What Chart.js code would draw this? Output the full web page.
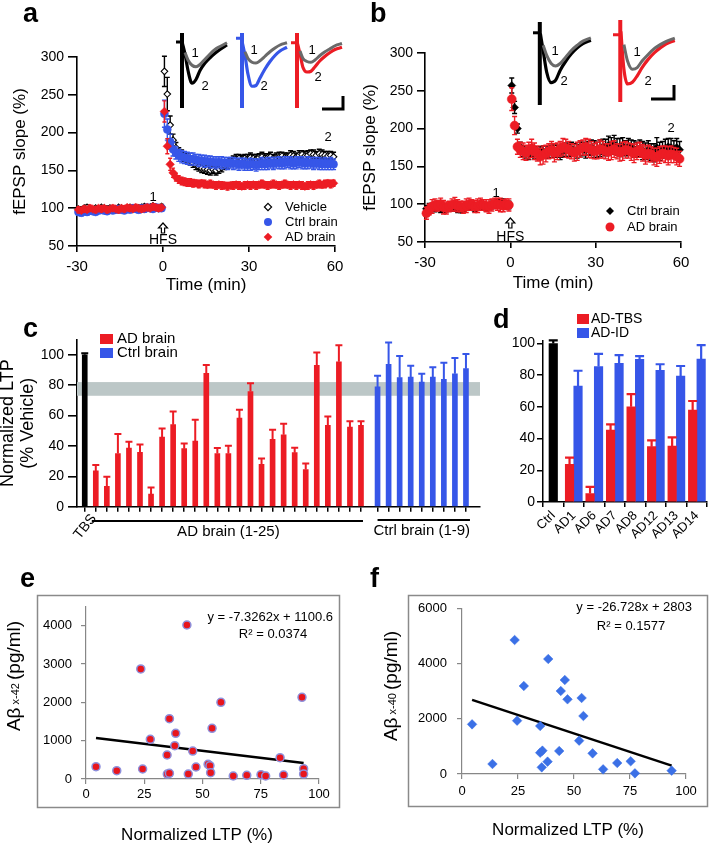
<!DOCTYPE html>
<html><head><meta charset="utf-8">
<script src="https://cdn.jsdelivr.net/npm/chart.js@4.4.1/dist/chart.umd.min.js"></script>
<style>
html,body{margin:0;padding:0;background:#fff;}
#wrap{position:relative;width:709px;height:845px;overflow:hidden;background:#fff;}
#wrap canvas{position:absolute;left:0;top:0;}
</style></head><body><div id="wrap"></div>
<script>
// ================= DATA =================
// Panels a & b: time (min) and fEPSP slope (%) with SEM
const timeMin = [-29.5,-28.5,-27.5,-26.5,-25.5,-24.5,-23.5,-22.5,-21.5,-20.5,-19.5,-18.5,-17.5,-16.5,-15.5,-14.5,-13.5,-12.5,-11.5,-10.5,-9.5,-8.5,-7.5,-6.5,-5.5,-4.5,-3.5,-2.5,-1.5,-0.5,
 0.5,1.5,2.5,3.5,4.5,5.5,6.5,7.5,8.5,9.5,10.5,11.5,12.5,13.5,14.5,15.5,16.5,17.5,18.5,19.5,20.5,21.5,22.5,23.5,24.5,25.5,26.5,27.5,28.5,29.5,
 30.5,31.5,32.5,33.5,34.5,35.5,36.5,37.5,38.5,39.5,40.5,41.5,42.5,43.5,44.5,45.5,46.5,47.5,48.5,49.5,50.5,51.5,52.5,53.5,54.5,55.5,56.5,57.5,58.5,59.5];
const timeTicks = [-30,0,30,60];
const slopeTicksAB = [50,100,150,200,250,300];

const vehicleA = [99,98,100,101,99,98,100,99,101,100,99,100,98,99,101,100,99,100,101,100,99,100,101,102,100,101,103,101,100,102,
 281,251,210,190,180,174,171,168,166,163,160,157,155,153,152,151,150,151,150,152,154,156,158,160,163,165,166,164,166,165,
 167,166,165,167,168,166,167,168,166,167,168,169,167,168,170,169,168,170,171,169,170,172,171,170,172,171,170,169,170,168];
const vehicleAErr = [3,3,2,3,2,3,2,3,2,3,2,3,2,3,2,3,2,3,2,3,2,3,3,3,2,3,3,3,2,3,
 20,22,12,8,7,6,6,6,6,6,6,6,6,6,6,6,6,5,6,6,6,5,6,5,6,6,5,6,5,6,
 6,5,6,5,6,6,5,6,5,6,6,5,6,5,6,6,5,6,5,6,6,5,6,5,6,6,5,6,5,6];
const ctrlA = [95,94,96,95,97,96,95,97,98,97,96,98,97,98,99,98,97,99,98,100,99,98,100,99,101,100,99,101,100,100,
 225,204,188,178,173,170,168,167,166,165,165,164,163,163,162,162,161,161,160,161,160,160,159,160,159,159,158,159,158,157,
 158,158,157,158,159,158,159,160,159,160,160,159,160,161,160,159,160,161,160,159,160,160,159,160,159,158,159,158,159,158];
const ctrlAErr = [4,4,3,4,3,4,3,4,3,4,3,4,3,4,3,4,3,4,3,4,3,4,3,4,3,4,3,4,3,4,
 18,14,10,9,8,8,8,8,8,8,8,7,8,7,8,7,8,7,8,7,8,7,8,7,8,7,8,7,8,7,
 8,7,8,7,8,7,8,7,8,7,8,7,8,7,8,7,8,7,8,7,8,7,8,7,8,7,8,7,8,7];
const adA = [98,97,99,98,100,99,98,100,99,100,98,99,100,99,98,100,99,101,100,99,101,100,99,100,101,100,102,101,100,101,
 228,182,158,147,141,138,136,135,134,134,133,133,132,133,132,131,132,131,130,131,130,130,129,130,130,131,130,129,130,131,
 130,131,130,131,132,131,130,131,132,131,130,131,132,131,130,131,130,131,130,129,130,131,130,131,132,131,132,133,132,133];
const adAErr = [4,3,4,3,4,3,4,3,4,3,4,3,4,3,4,3,4,3,4,3,4,3,4,3,4,3,4,3,4,3,
 14,10,8,6,5,5,5,5,5,5,5,4,5,4,5,4,5,4,5,4,5,4,5,4,5,4,5,4,5,4,
 5,4,5,4,5,4,5,4,5,4,5,4,5,4,5,4,5,4,5,4,5,4,5,4,5,4,5,4,5,4];

const ctrlB = [94,96,97,95,96,94,93,95,97,96,95,94,93,95,96,97,96,95,97,98,97,96,98,99,100,101,103,102,100,99,
 257,228,200,176,170,168,167,170,168,166,168,170,169,168,170,171,170,168,170,172,171,173,172,170,172,173,171,174,175,173,
 172,174,176,175,178,177,179,176,175,177,174,176,175,173,172,174,171,170,172,169,168,175,170,172,174,176,175,173,175,172];
const ctrlBErr = [4,5,4,5,4,5,4,5,4,5,4,5,4,5,4,5,4,5,4,5,4,5,4,5,4,5,4,5,4,5,
 10,8,6,6,7,7,8,7,8,7,8,7,8,7,8,9,8,9,8,9,8,9,8,9,10,9,10,9,10,11,
 10,11,10,11,12,11,12,11,12,11,10,11,10,11,10,11,12,11,12,11,12,13,12,11,12,11,12,11,12,11];
const adB = [88,93,97,99,98,100,96,95,97,99,100,98,97,96,98,100,99,97,98,100,99,98,97,99,101,100,99,98,100,99,
 239,204,176,172,170,168,171,174,170,167,163,165,167,170,172,168,170,173,176,174,172,170,168,170,173,175,176,174,172,170,
 171,173,172,170,169,171,173,170,168,170,172,171,169,167,170,172,168,165,167,166,163,162,165,167,166,164,166,165,163,160];
const adBErr = [8,7,9,8,7,8,9,8,7,8,9,8,7,8,9,8,7,8,9,8,7,8,9,8,7,8,9,8,7,8,
 15,12,10,10,11,10,11,12,11,10,11,12,11,10,11,12,11,10,11,12,11,10,11,12,11,10,11,12,11,10,
 11,12,11,10,11,12,11,10,11,12,11,10,11,12,11,10,11,12,11,10,11,12,11,10,11,12,11,10,11,10];

// Inset EPSP traces (normalised amplitude, sample times in arbitrary ms units)
const traceT = [3,6,10,14,18,23,28,33,38,45];
const trA_black1 = [0.74,0.64,0.57,0.55,0.58,0.65,0.72,0.78,0.82,0.87];
const trA_black2 = [0.72,0.50,0.33,0.38,0.50,0.60,0.67,0.73,0.78,0.84];
const trA_blue1  = [0.75,0.66,0.61,0.60,0.63,0.69,0.75,0.80,0.84,0.87];
const trA_blue2  = [0.70,0.45,0.29,0.30,0.40,0.52,0.62,0.70,0.76,0.81];
const trA_red1   = [0.76,0.66,0.62,0.61,0.64,0.70,0.75,0.79,0.83,0.86];
const trA_red2   = [0.72,0.54,0.48,0.49,0.55,0.63,0.69,0.74,0.78,0.81];
const trB_black1 = [0.72,0.60,0.50,0.47,0.50,0.58,0.66,0.72,0.77,0.81];
const trB_black2 = [0.65,0.40,0.27,0.30,0.42,0.53,0.62,0.69,0.74,0.78];
const trB_red1   = [0.70,0.50,0.40,0.42,0.50,0.58,0.65,0.70,0.74,0.78];
const trB_red2   = [0.40,0.22,0.24,0.32,0.42,0.52,0.60,0.66,0.71,0.75];

// Panel c: normalized LTP (% vehicle)
const tbsLTP = [100];
const tbsLTPErr = [1];
const adLTP = [23.6,13.5,35,38.6,35.8,8.3,45.9,54,38.2,43.2,87.8,35,35,58.3,75.8,28,44.3,47.4,35.6,24.5,93,53.5,95.4,52.4,53.5];
const adLTPErr = [3.9,6.2,12.8,4.2,5.2,4.4,5.6,8.7,3.5,14,5.4,3.6,5.2,5.5,5.4,3.7,6.4,7.2,3.3,3.9,8.5,5.9,10.9,3.9,2.8];
const ctrlLTP = [78.8,93.6,84.9,85.3,82,85.3,83.8,87.5,90.8];
const ctrlLTPErr = [7.4,14.4,14.2,7.5,5.5,6.4,10.9,10.3,9.6];
const vehicleBand = [73,82];
const ltpTicks = [0,20,40,60,80,100];

// Panel d
const dLabels = ['Ctrl','AD1','AD6','AD7','AD8','AD12','AD13','AD14'];
const ctrlD = [100];
const ctrlDErr = [2];
const adTBS = [23.8,5.3,45.4,60.1,34.9,35.3,58];
const adTBSErr = [4.2,4.2,3.6,7.9,4,5.5,5.7];
const adID = [73.2,85.4,87.5,90,83,79.5,90.2];
const adIDErr = [9.6,8,5.2,2,3.9,6.3,8.8];

// Panel e: Abeta x-42 vs normalized LTP
const eLTP = [4.3,13.2,23.5,24.3,27.6,34.8,34.9,35.8,35.8,38.5,38.1,43.3,43.9,45.8,47.2,52.4,53.2,53.5,54.1,57.9,63.2,69.0,75.1,77.1,83.3,84.8,92.7,93.4,93.4];
const eAb42 = [322,217,2870,261,1035,626,130,148,1574,1191,870,4017,130,730,313,383,348,165,1322,2000,78,96,113,78,557,104,2130,270,130];
const eFit = {slope:-7.3262, intercept:1100.6, r2:'0.0374'};
const eTicksY = [0,1000,2000,3000,4000];
// Panel f: Abeta x-40 vs normalized LTP
const fLTP = [4.5,13.6,23.5,24.6,27.6,34.9,34.9,35.9,35.6,38.2,38.5,43.4,44.1,45.9,47.1,52.3,53.4,54.2,58.3,63.0,69.3,75.3,77.2,93.6];
const fAb40 = [1798,362,4852,1931,3187,1738,772,845,241,447,4164,833,3005,3404,2704,1207,2752,2100,748,169,398,459,24,121];
const fFit = {slope:-26.728, intercept:2803, r2:'0.1577'};
const fTicksY = [0,2000,4000,6000];
const ltpTicksX = [0,25,50,75,100];

// ================= RENDERING =================
const W = 709, H = 845;
const FONT = '"Liberation Sans", Arial, Helvetica, sans-serif';
const RED = '#ec1c24', BLUE = '#3656e8', FBLUE = '#3b70e6', TRACEGRAY = '#6a6a6a';

function mk(){
  const c = document.createElement('canvas');
  c.width = W; c.height = H; c.style.width = W+'px'; c.style.height = H+'px';
  document.getElementById('wrap').appendChild(c);
  return c.getContext('2d');
}
function pad(l,t,r,b,yW,xH){ return {left:l-yW, top:t, right:W-r, bottom:H-b-xH}; }
function baseOpts(){ return {responsive:false, maintainAspectRatio:false, animation:false, devicePixelRatio:1, events:[],
  plugins:{legend:{display:false}, tooltip:{enabled:false}}}; }
function T(ctx,s,x,y,size,o){ o=o||{}; ctx.save(); ctx.font=(o.bold?'bold ':'')+size+'px '+FONT; ctx.fillStyle=o.color||'#000';
  ctx.textAlign=o.align||'center'; ctx.textBaseline=o.base||'middle'; ctx.translate(x,y); if(o.rot) ctx.rotate(o.rot); ctx.fillText(s,0,0); ctx.restore(); }
function mark(ctx,style,x,y,r,fill,stroke,lw){ ctx.save(); ctx.beginPath();
  if(style==='circle') ctx.arc(x,y,r,0,Math.PI*2); else { ctx.moveTo(x,y-r); ctx.lineTo(x+r,y); ctx.lineTo(x,y+r); ctx.lineTo(x-r,y); ctx.closePath(); }
  ctx.fillStyle=fill; ctx.fill(); if(stroke){ ctx.strokeStyle=stroke; ctx.lineWidth=lw||1; ctx.stroke(); } ctx.restore(); }
function arrow(ctx,x,y0,y1){ ctx.save(); ctx.beginPath(); ctx.moveTo(x,y0); ctx.lineTo(x+4.5,y0+5); ctx.lineTo(x+1.6,y0+5); ctx.lineTo(x+1.6,y1);
  ctx.lineTo(x-1.6,y1); ctx.lineTo(x-1.6,y0+5); ctx.lineTo(x-4.5,y0+5); ctx.closePath(); ctx.fillStyle='#fff'; ctx.fill(); ctx.strokeStyle='#000'; ctx.lineWidth=1.2; ctx.stroke(); ctx.restore(); }
function line(ctx,pts,w,color){ ctx.save(); ctx.strokeStyle=color||'#000'; ctx.lineWidth=w; ctx.lineCap='butt'; ctx.beginPath(); ctx.moveTo(pts[0],pts[1]); for(let i=2;i<pts.length;i+=2) ctx.lineTo(pts[i],pts[i+1]); ctx.stroke(); ctx.restore(); }
function yTitleMixed(ctx,cx,cy,parts){ ctx.save(); ctx.translate(cx,cy); ctx.rotate(-Math.PI/2); ctx.textBaseline='middle'; ctx.fillStyle='#000';
  let tot=0; parts.forEach(p=>{ ctx.font=p[1]+'px '+FONT; tot+=ctx.measureText(p[0]).width; });
  let x=-tot/2; parts.forEach(p=>{ ctx.font=p[1]+'px '+FONT; ctx.fillText(p[0],x,p[2]||0); x+=ctx.measureText(p[0]).width; }); ctx.restore(); }

// error bar plugin (uses the chart's own scales)
const errPlugin = {id:'errbars', beforeDatasetDraw(chart,args){
  const ds = chart.data.datasets[args.index]; if(!ds.err) return;
  const meta = args.meta, ys = chart.scales[meta.yAxisID], ctx = chart.ctx;
  ctx.save(); ctx.strokeStyle = ds.errColor; ctx.lineWidth = ds.errWidth||1.4;
  meta.data.forEach((el,i)=>{
    const e = ds.err[i]; const raw = ds.data[i];
    const v = (raw!==null && typeof raw==='object') ? raw.y : raw;
    if(e==null || v==null) return;
    const x = el.x, yT = ys.getPixelForValue(v+e), yB = ds.errMode==='up' ? ys.getPixelForValue(v) : ys.getPixelForValue(v-e);
    const cw = ds.capW/2;
    ctx.beginPath(); ctx.moveTo(x,yB); ctx.lineTo(x,yT); ctx.moveTo(x-cw,yT); ctx.lineTo(x+cw,yT);
    if(ds.errMode!=='up'){ ctx.moveTo(x-cw,yB); ctx.lineTo(x+cw,yB); }
    ctx.stroke();
  });
  ctx.restore();
}};

function linAxis(o){
  const ticks = {display:o.showLabels!==false, color:'#000', font:{family:FONT,size:o.font||14}, padding:o.tp==null?4:o.tp,
      maxRotation:o.rot||0, minRotation:o.rot||0, autoSkip:false};
  if(o.type!=='category') ticks.callback = v=>String(v);
  const ax = {type:o.type||'linear',
    afterFit: s=>{ if(o.horiz) s.height=o.fit; else s.width=o.fit; },
    border:{display:true, color:o.color||'#000', width:o.lw||1.6},
    grid:{display:true, drawOnChartArea:false, drawTicks:true, tickLength:o.tl||8, color:o.color||'#000', lineWidth:o.lw||1.6, offset:o.gridOffset||false},
    ticks:ticks, title: o.title || {display:false}};
  if(o.min!=null) ax.min=o.min;
  if(o.max!=null) ax.max=o.max;
  if(o.ticks) ax.afterBuildTicks = s=>{ s.ticks = o.ticks.map(v=>({value:v})); };
  return ax;
}
function pts(xs,ys){ return xs.map((x,i)=>({x:x, y:ys[i]})); }

// ---------- Panel a ----------
new Chart(mk(), {type:'scatter', data:{datasets:[
  {data:pts(timeMin,adA), err:adAErr, errColor:RED, capW:4, pointStyle:'rectRot', pointRadius:4.3, backgroundColor:RED, borderColor:RED, borderWidth:0.5, order:1, clip:false},
  {data:pts(timeMin,ctrlA), err:ctrlAErr, errColor:BLUE, capW:5, pointStyle:'circle', pointRadius:4, backgroundColor:BLUE, borderColor:BLUE, borderWidth:0.5, order:2, clip:false},
  {data:pts(timeMin,vehicleA), err:vehicleAErr, errColor:'#000', capW:5, pointStyle:'rectRot', pointRadius:3.3, backgroundColor:'#fff', borderColor:'#000', borderWidth:1.1, order:3, clip:false}
]}, options:Object.assign(baseOpts(), {layout:{padding:pad(77,57,335,246,67.2,49.2)}, scales:{
  x: linAxis({min:-30,max:60,ticks:timeTicks,horiz:true,fit:49.2,font:15,tl:6,tp:6,
     title:{display:true,text:'Time (min)',color:'#000',font:{family:FONT,size:17},padding:0}}),
  y: linAxis({min:50,max:300,ticks:slopeTicksAB,fit:67.2,font:14,tl:9,tp:4,
     title:{display:true,text:'fEPSP slope (%)',color:'#000',font:{family:FONT,size:17},padding:0}})
}}), plugins:[errPlugin, {id:'annA', afterDraw(c){ const ctx=c.ctx, x0=c.scales.x.getPixelForValue(0);
  T(ctx,'a',23,22,27,{bold:true,align:'left',base:'alphabetic'});
  T(ctx,'1',153,197,13); T(ctx,'2',328,137,13);
  arrow(ctx,x0,223,233); T(ctx,'HFS',x0,240,14);
  mark(ctx,'diamond',268,207,3.6,'#fff','#000',1.2); T(ctx,'Vehicle',285,207,13,{align:'left'});
  mark(ctx,'circle',268,222,4,BLUE); T(ctx,'Ctrl brain',285,222,13,{align:'left'});
  mark(ctx,'diamond',268,237,4.3,RED); T(ctx,'AD brain',285,237,13,{align:'left'});
  line(ctx,[322,109,343,109,343,96],3);
  T(ctx,'1',195,53,13); T(ctx,'2',205,86,13);
  T(ctx,'1',254,50,13); T(ctx,'2',264,86,13);
  T(ctx,'1',312,50,13); T(ctx,'2',318,77,13);
}}]});

// ---------- Panel b ----------
new Chart(mk(), {type:'scatter', data:{datasets:[
  {data:pts(timeMin,adB), err:adBErr, errColor:RED, capW:5, pointStyle:'circle', pointRadius:4.5, backgroundColor:RED, borderColor:RED, borderWidth:0.5, order:1, clip:false},
  {data:pts(timeMin,ctrlB), err:ctrlBErr, errColor:'#000', capW:5, pointStyle:'rectRot', pointRadius:4, backgroundColor:'#000', borderColor:'#000', borderWidth:0.5, order:2, clip:false}
]}, options:Object.assign(baseOpts(), {layout:{padding:pad(425,53,681,242,65.2,51.2)}, scales:{
  x: linAxis({min:-30,max:60,ticks:timeTicks,horiz:true,fit:51.2,font:15,tl:6,tp:6,
     title:{display:true,text:'Time (min)',color:'#000',font:{family:FONT,size:17},padding:0}}),
  y: linAxis({min:50,max:300,ticks:slopeTicksAB,fit:65.2,font:14,tl:8,tp:4,
     title:{display:true,text:'fEPSP slope (%)',color:'#000',font:{family:FONT,size:17},padding:0}})
}}), plugins:[errPlugin, {id:'annB', afterDraw(c){ const ctx=c.ctx, x0=c.scales.x.getPixelForValue(0);
  T(ctx,'b',370,22,27,{bold:true,align:'left',base:'alphabetic'});
  T(ctx,'1',496,193,13); T(ctx,'2',671,128,13);
  arrow(ctx,x0,218,228); T(ctx,'HFS',x0,237,14);
  mark(ctx,'diamond',610,211,4,'#000'); T(ctx,'Ctrl brain',627,211,13,{align:'left'});
  mark(ctx,'circle',610,227,4.5,RED); T(ctx,'AD brain',627,227,13,{align:'left'});
  line(ctx,[651,99,674,99,674,85],3);
  T(ctx,'1',555,51,13); T(ctx,'2',564,81,13);
  T(ctx,'1',637,52,13); T(ctx,'2',648,81,13);
}}]});

// ---------- Insets (EPSP traces) ----------
function inset(box, color, tr1, tr2, nubY){
  const [l,t,r,b] = box;
  new Chart(mk(), {type:'scatter', data:{datasets:[
    {data:pts(traceT,tr1), showLine:true, pointRadius:0, borderColor:TRACEGRAY, borderWidth:3, cubicInterpolationMode:'monotone', clip:false, order:1},
    {data:[{x:0.5,y:0.86}].concat(pts(traceT,tr2)), showLine:true, pointRadius:0, borderColor:color, borderWidth:3.2, cubicInterpolationMode:'monotone', clip:false, order:2},
    {data:[{x:0,y:0},{x:0,y:1}], showLine:true, pointRadius:0, borderColor:color, borderWidth:4, clip:false, order:3},
    {data:[{x:-6,y:nubY},{x:0,y:nubY}], showLine:true, pointRadius:0, borderColor:color, borderWidth:3, clip:false, order:3}
  ]}, options:Object.assign(baseOpts(), {layout:{padding:pad(l,t,r,b,0,0)}, scales:{
    x:{type:'linear', min:-6, max:46, display:false}, y:{type:'linear', min:0, max:1, display:false}}})});
}
inset([176,33,228,108], '#000', trA_black1, trA_black2, 0.88);
inset([236,33,288,108], BLUE, trA_blue1, trA_blue2, 0.93);
inset([291,33,343,108], RED, trA_red1, trA_red2, 0.87);
inset([533,22,592,105], '#000', trB_black1, trB_black2, 0.87);
inset([613,20,676,102], RED, trB_red1, trB_red2, 0.82);

// ---------- Panel c ----------
const cTickPos = [0].concat(adLTP.map((v,i)=>i+1), ctrlLTP.map((v,i)=>26.5+i));
new Chart(mk(), {type:'bar', data:{datasets:[
  {data:tbsLTP.map(v=>({x:0,y:v})), backgroundColor:'#000', err:tbsLTPErr, errMode:'up', errColor:'#000', capW:7, errWidth:2},
  {data:adLTP.map((v,i)=>({x:i+1,y:v})), backgroundColor:RED, err:adLTPErr, errMode:'up', errColor:RED, capW:7, errWidth:2},
  {data:ctrlLTP.map((v,i)=>({x:26.5+i,y:v})), backgroundColor:BLUE, err:ctrlLTPErr, errMode:'up', errColor:BLUE, capW:7, errWidth:2}
]}, options:Object.assign(baseOpts(), {datasets:{bar:{barThickness:5, grouped:false, borderWidth:0}},
  layout:{padding:pad(77,339.5,480,506.8,78.5,20)}, scales:{
  x: linAxis({min:-0.18,max:35.25,ticks:cTickPos,horiz:true,fit:20,tl:5,showLabels:false,lw:1.5}),
  y: linAxis({min:0,max:110,ticks:ltpTicks,fit:78.5,font:14,tl:9,tp:4,
     title:{display:true,text:['Normalized LTP','(% Vehicle)'],color:'#000',font:{family:FONT,size:18,lineHeight:1.1},padding:0}})
}}), plugins:[errPlugin, {id:'bandC', beforeDatasetsDraw(c){ const ctx=c.ctx, ys=c.scales.y, a=c.chartArea;
    const y1=ys.getPixelForValue(vehicleBand[1]), y0=ys.getPixelForValue(vehicleBand[0]);
    ctx.save(); ctx.fillStyle='#bcc7c7'; ctx.fillRect(a.left, y1, a.right-a.left, y0-y1); ctx.restore(); },
  afterDraw(c){ const ctx=c.ctx, xs=c.scales.x;
  T(ctx,'c',23,337,27,{bold:true,align:'left',base:'alphabetic'});
  ctx.fillStyle=RED; ctx.fillRect(100,334,13,10); T(ctx,'AD brain',117,339,15,{align:'left'});
  ctx.fillStyle=BLUE; ctx.fillRect(100,348,13,10); T(ctx,'Ctrl brain',117,353,15,{align:'left'});
  T(ctx,'TBS',xs.getPixelForValue(0)+9,516,14,{align:'right',rot:-0.9});
  line(ctx,[xs.getPixelForValue(1)-4,521,xs.getPixelForValue(25)+2,521],2);
  line(ctx,[xs.getPixelForValue(26.5),520,xs.getPixelForValue(34.5)+4,520],2);
  T(ctx,'AD brain (1-25)',(xs.getPixelForValue(1)+xs.getPixelForValue(25))/2,532,15);
  T(ctx,'Ctrl brain (1-9)',(xs.getPixelForValue(26.5)+xs.getPixelForValue(34.5))/2,531,15);
}}]});

// ---------- Panel d ----------
new Chart(mk(), {type:'bar', data:{labels:dLabels, datasets:[
  {data:dLabels.map((l,i)=> i===0 ? ctrlD[0] : null), backgroundColor:'#000', err:dLabels.map((l,i)=> i===0 ? ctrlDErr[0] : null), errMode:'up', errColor:'#000', capW:9, errWidth:2.2},
  {data:[null].concat(adTBS), backgroundColor:RED, err:[null].concat(adTBSErr), errMode:'up', errColor:RED, capW:9, errWidth:2.2},
  {data:[null].concat(adID), backgroundColor:BLUE, err:[null].concat(adIDErr), errMode:'up', errColor:BLUE, capW:9, errWidth:2.2}
]}, options:Object.assign(baseOpts(), {datasets:{bar:{barThickness:8.5, skipNull:true, borderWidth:0}},
  layout:{padding:pad(543,340.3,708,502,40,45)}, scales:{
  x: linAxis({type:'category',horiz:true,fit:45,tl:5,tp:1,font:13,rot:45,lw:1.5,gridOffset:true}),
  y: linAxis({min:0,max:102,ticks:ltpTicks,fit:40,font:14,tl:6,tp:2,lw:1.5})
}}), plugins:[errPlugin, {id:'annD', afterDraw(c){ const ctx=c.ctx;
  T(ctx,'d',493,328,27,{bold:true,align:'left',base:'alphabetic'});
  ctx.fillStyle=RED; ctx.fillRect(577,314,12,10); T(ctx,'AD-TBS',591,319,14,{align:'left'});
  ctx.fillStyle=BLUE; ctx.fillRect(577,328,12,10); T(ctx,'AD-ID',591,333,14,{align:'left'});
}}]});

// ---------- Panels e & f ----------
function fitLine(xs,fit){ const lo=Math.min(...xs), hi=Math.max(...xs); return [{x:lo,y:fit.slope*lo+fit.intercept},{x:hi,y:fit.slope*hi+fit.intercept}]; }
function eqText(fit){ return 'y = '+fit.slope+'x + '+fit.intercept; }

new Chart(mk(), {type:'scatter', data:{datasets:[
  {data:pts(eLTP,eAb42), pointStyle:'circle', pointRadius:4, backgroundColor:'#e8151c', borderColor:'#8e90dc', borderWidth:1.5, order:1, clip:false},
  {data:fitLine(eLTP,eFit), showLine:true, pointRadius:0, borderColor:'#000', borderWidth:2.5, order:2}
]}, options:Object.assign(baseOpts(), {layout:{padding:pad(86,606.5,319,779,50,25)}, scales:{
  x: linAxis({min:0,max:100,ticks:ltpTicksX,horiz:true,fit:25,font:13,tl:5,tp:3,color:'#878787',lw:1.2}),
  y: linAxis({min:0,max:4500,ticks:eTicksY,fit:50,font:13,tl:5,tp:9,color:'#878787',lw:1.2})
}}), plugins:[{id:'annE', beforeDraw(c){ const ctx=c.ctx; ctx.save(); ctx.strokeStyle='#8a8a8a'; ctx.lineWidth=1.5; ctx.strokeRect(37.5,595.5,302,212); ctx.restore(); },
  afterDraw(c){ const ctx=c.ctx;
  T(ctx,'e',20,587,27,{bold:true,align:'left',base:'alphabetic'});
  T(ctx,eqText(eFit),333,617,13,{align:'right'});
  T(ctx,'R\u00b2 = '+eFit.r2,273,634,13);
  yTitleMixed(ctx,15,676,[['A\u03b2',19],[' x-42 ',11,1],['(pg/ml)',19]]);
  T(ctx,'Normalized LTP (%)',197,835,17);
}}]});

new Chart(mk(), {type:'scatter', data:{datasets:[
  {data:pts(fLTP,fAb40), pointStyle:'rectRot', pointRadius:4.8, backgroundColor:FBLUE, borderColor:FBLUE, borderWidth:0.5, order:1, clip:false},
  {data:fitLine(fLTP,fFit), showLine:true, pointRadius:0, borderColor:'#000', borderWidth:2.5, order:2}
]}, options:Object.assign(baseOpts(), {layout:{padding:pad(462,608.3,686,774,50,25)}, scales:{
  x: linAxis({min:0,max:100,ticks:ltpTicksX,horiz:true,fit:25,font:13,tl:5,tp:5,color:'#878787',lw:1.2}),
  y: linAxis({min:0,max:6000,ticks:fTicksY,fit:50,font:13,tl:5,tp:10,color:'#878787',lw:1.2})
}}), plugins:[{id:'annF', beforeDraw(c){ const ctx=c.ctx; ctx.save(); ctx.strokeStyle='#8a8a8a'; ctx.lineWidth=1.5; ctx.strokeRect(408.5,595.5,299,211); ctx.restore(); },
  afterDraw(c){ const ctx=c.ctx;
  T(ctx,'f',370,587,27,{bold:true,align:'left',base:'alphabetic'});
  T(ctx,eqText(fFit),692,607,13,{align:'right'});
  T(ctx,'R\u00b2 = '+fFit.r2,631,626,13);
  yTitleMixed(ctx,392,686,[['A\u03b2',19],[' x-40 ',11,1],['(pg/ml)',19]]);
  T(ctx,'Normalized LTP (%)',568,830,17);
}}]});
</script></body></html>
